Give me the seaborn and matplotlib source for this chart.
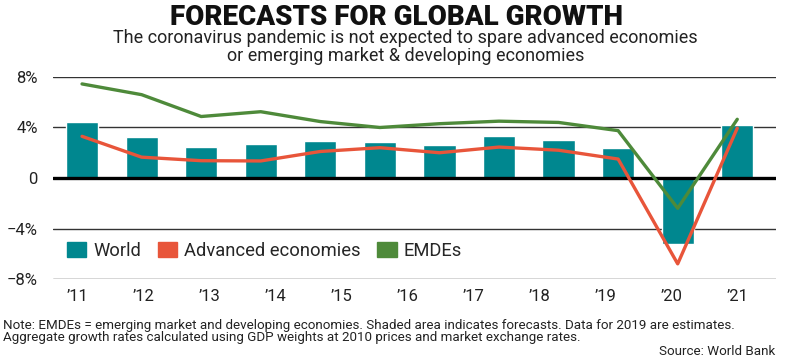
import numpy as np
import seaborn as sns
import matplotlib.pyplot as plt
from matplotlib.patches import Patch

# values (growth, %)
years = [2010, 2011, 2012, 2013, 2014, 2015, 2016, 2017, 2018, 2019, 2020, 2021]
world = [4.4, 3.25, 2.45, 2.7, 2.93, 2.88, 2.62, 3.33, 3.0, 2.38, -5.2, 4.2]
advanced = [3.3, 1.65, 1.37, 1.35, 2.1, 2.4, 2.0, 2.45, 2.2, 1.5, -6.8, 3.95]
emdes = [7.45, 6.6, 4.87, 5.25, 4.47, 4.0, 4.3, 4.5, 4.4, 3.75, -2.4, 4.65]
tick_labels = ["\u201911", "\u201912", "\u201913", "\u201914", "\u201915", "\u201916",
               "\u201917", "\u201918", "\u201919", "\u201920", "\u201921"]
y_ticks = [-8, -4, 0, 4, 8]
y_labels = ["\u22128%", "\u22124%", "0", "4%", "8%"]

teal = "#00878f"
red = "#e8553a"
green = "#4e8a3a"

sns.set_theme(style="white")
plt.rcParams["font.family"] = ["Roboto", "DejaVu Sans"]

fig = plt.figure(figsize=(7.89, 3.64), dpi=100)
ax = fig.add_axes([0.0672, 0.2335, 0.9163, 0.555])

sns.barplot(x=years, y=world, native_scale=True, color=teal, saturation=1,
            width=0.54, ax=ax, zorder=2)
sns.lineplot(x=years, y=advanced, color=red, lw=2.4, ax=ax, zorder=4)
sns.lineplot(x=years, y=emdes, color=green, lw=2.4, ax=ax, zorder=5)

ax.set_xlim(years[0] - 0.487, years[0] + 11.65)
ax.set_ylim(-8, 8)
ax.set_xticks(years[0] + np.linspace(-0.08, 11, len(tick_labels)))
ax.set_xticklabels(tick_labels, fontsize=12, color="#222222")
ax.set_yticks(y_ticks)
ax.set_yticklabels(y_labels, fontsize=12, color="#222222")
ax.tick_params(axis="both", length=0)
ax.tick_params(axis="x", pad=7)
ax.tick_params(axis="y", pad=11)
ax.yaxis.grid(True, color="#333333", lw=1)
ax.set_axisbelow(True)
ax.axhline(0, color="black", lw=2.4, zorder=3)
sns.despine(ax=ax, left=True, bottom=True)
ax.set_xlabel("")
ax.set_ylabel("")

handles = [Patch(color=teal, label="World"),
           Patch(color=red, label="Advanced economies"),
           Patch(color=green, label="EMDEs")]
ax.legend(handles=handles, loc="center left", bbox_to_anchor=(0.019, 0.139),
          ncol=3, frameon=False, fontsize=13.2, handlelength=1.05, handleheight=0.85,
          handletextpad=0.4, columnspacing=0.9, borderpad=0, borderaxespad=0)

fig.text(0.502, 1 - 25 / 364, "FORECASTS FOR GLOBAL GROWTH", ha="center", va="baseline",
         fontsize=20, fontweight="black", color="#111111")
fig.text(0.514, 1 - 43 / 364, "The coronavirus pandemic is not expected to spare advanced economies",
         ha="center", va="baseline", fontsize=13, color="#222222")
fig.text(0.514, 1 - 61 / 364, "or emerging market & developing economies",
         ha="center", va="baseline", fontsize=13, color="#222222")
fig.text(0.004, 1 - 329 / 364,
         "Note: EMDEs = emerging market and developing economies. Shaded area indicates forecasts. "
         "Data for 2019 are estimates.", ha="left", va="baseline", fontsize=9.6, color="#222222")
fig.text(0.004, 1 - 341 / 364,
         "Aggregate growth rates calculated using GDP weights at 2010 prices and market exchange rates.",
         ha="left", va="baseline", fontsize=9.6, color="#222222")
fig.text(0.983, 1 - 355 / 364, "Source: World Bank", ha="right", va="baseline",
         fontsize=9.6, color="#222222")

fig.savefig("out.png", dpi=100)
